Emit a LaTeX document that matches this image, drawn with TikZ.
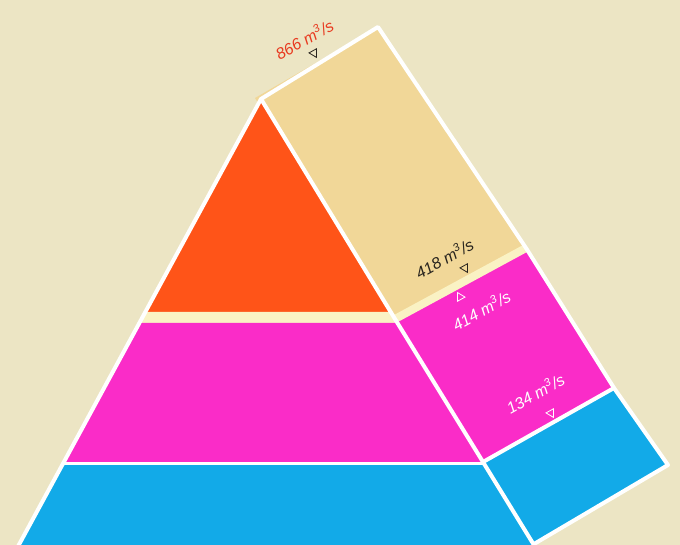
\documentclass[tikz,border=0pt]{standalone}
\usepackage{fontspec}
\setmainfont{Liberation Sans}
\usetikzlibrary{shapes.geometric}
\definecolor{bg}{RGB}{236,229,196}
\definecolor{sand}{RGB}{241,215,152}
\definecolor{pale}{RGB}{250,242,196}
\definecolor{orng}{RGB}{255,84,24}
\definecolor{mgnt}{RGB}{250,44,200}
\definecolor{sky}{RGB}{18,170,232}
\definecolor{redtxt}{RGB}{232,58,32}
\definecolor{darktxt}{RGB}{40,36,30}
\tikzset{
  wline/.style={draw=white, line width=4pt, line join=round, line cap=round},
  lbl/.style={font=\itshape\fontsize{16}{16}\selectfont, rotate=29, inner sep=0pt},
  tri/.style={draw, regular polygon, regular polygon sides=3, minimum size=10pt, inner sep=0pt, line width=0.8pt}
}
\begin{document}
\begin{tikzpicture}[x=1pt,y=-1pt]
\path[fill=bg] (0,0) rectangle (680,545);
\useasboundingbox (0,0) rectangle (680,545);
% tilted strip
\fill[sand] (255,98) -- (378,27) -- (526,248) -- (395,319) -- cycle;
\fill[mgnt] (395,319) -- (526,248) -- (614,388) -- (483,462) -- cycle;
\fill[sky] (483,462) -- (614,388) -- (668,465) -- (534,545) -- cycle;
% pyramid
\fill[orng] (261,100) -- (145.5,312) -- (391,312) -- cycle;
\fill[pale] (145.5,312) -- (391,312) -- (397.8,323) -- (139.6,323) -- cycle;
\fill[mgnt] (139.6,323) -- (397.8,323) -- (483,462) -- (63.8,462) -- cycle;
\fill[sky] (63.8,462) -- (483,462) -- (537,550) -- (15,550) -- cycle;
% dividers
\draw[draw=pale, line width=8pt] (395,319) -- (526,248);
\draw[wline, line width=3pt] (63.8,463) -- (483,463);
\draw[wline] (483,462) -- (614,388);
% outlines
\draw[wline] (15,552) -- (261,99) -- (378,27) -- (526,248) -- (614,388) -- (668,465) -- (534,544);
\draw[wline] (261,99) -- (395,319) -- (483,462) -- (537,550);
% labels
\node[lbl, text=redtxt] (l866) at (304,39) {866 m\textsuperscript{3}/s};
\node[tri, draw=darktxt, rotate=209] (t866) at (314,53) {};
\node[lbl, text=darktxt] (l418) at (444,258) {418 m\textsuperscript{3}/s};
\node[tri, draw=darktxt, rotate=209] (t418) at (465,268) {};
\node[tri, draw=white, rotate=29] (t414) at (460,297) {};
\node[lbl, text=white] (l414) at (481,310) {414 m\textsuperscript{3}/s};
\node[lbl, text=white] (l134) at (535,393) {134 m\textsuperscript{3}/s};
\node[tri, draw=white, rotate=209] (t134) at (551,413) {};
\end{tikzpicture}
\end{document}
